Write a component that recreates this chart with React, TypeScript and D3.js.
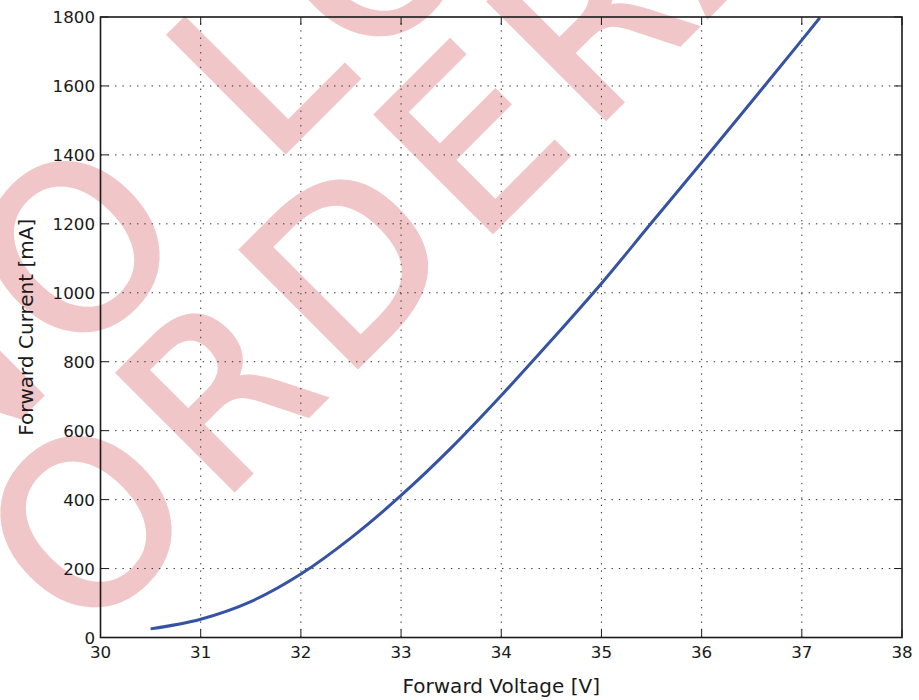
import React from "react";
import * as d3 from "d3";

const voltage = [30.5, 31.0, 31.5, 32.0, 32.5, 33.0, 33.5, 34.0, 34.5, 35.0, 35.5, 36.0, 36.5, 37.0, 37.18];
const current = [25, 53, 104, 184, 289, 412, 550, 702, 862, 1027, 1203, 1378, 1555, 1733, 1798];
const xTicks = [30, 31, 32, 33, 34, 35, 36, 37, 38];
const yTicks = [0, 200, 400, 600, 800, 1000, 1200, 1400, 1600, 1800];
const xLabel = "Forward Voltage [V]";
const yLabel = "Forward Current [mA]";
const watermark = ["NO LONGER", "ORDERABLE"];

const W = 919;
const H = 700;
const L = 100.5, R = 902, T = 17, B = 637.5;
const FONT = "'DejaVu Sans', sans-serif";

export default function App() {
  const x = d3.scaleLinear().domain([30, 38]).range([L, R]);
  const y = d3.scaleLinear().domain([0, 1800]).range([B, T]);
  const pts = voltage.map((v, i) => [v, current[i]] as [number, number]);
  const line = d3
    .line<[number, number]>()
    .x((d) => x(d[0]))
    .y((d) => y(d[1]))
    .curve(d3.curveMonotoneX);

  const wmSize = 226;
  const wmSpacing = 17;
  const rows = [
    { t: watermark[0], x: -62.2, y: 499.3 },
    { t: watermark[1], x: 81.3, y: 642.8 },
  ];
  const tickLen = 8;
  const ink = "#1a1a1a";
  const pink = "#f1c6c9";

  return (
    <svg
      width={W}
      height={H}
      style={{ position: "absolute", left: 0, top: 0, background: "#fff" }}
      fontFamily={FONT}
    >
      <defs>
        <clipPath id="plotclip">
          <rect x={L} y={T} width={R - L} height={B - T} />
        </clipPath>
      </defs>
      <rect x={0} y={0} width={W} height={H} fill="#fff" />
      {/* watermark */}
      {rows.map((r, i) => (
        <text
          key={i}
          transform={`translate(${r.x},${r.y}) rotate(-45)`}
          fontSize={wmSize}
          letterSpacing={wmSpacing}
          fill={pink}
          stroke={pink}
          strokeWidth={4.5}
          strokeLinejoin="miter"
          fontFamily={FONT}
        >
          {r.t}
        </text>
      ))}
      {/* grid */}
      <g stroke="#333" strokeWidth={1} strokeDasharray="1.4,5.9">
        {xTicks.slice(1, -1).map((t) => (
          <line key={"gx" + t} x1={x(t)} x2={x(t)} y1={B} y2={T} />
        ))}
        {yTicks.slice(1, -1).map((t) => (
          <line key={"gy" + t} x1={L} x2={R} y1={y(t)} y2={y(t)} />
        ))}
      </g>
      {/* curve */}
      <path
        d={line(pts) || ""}
        fill="none"
        stroke="#3552a3"
        strokeWidth={3}
        clipPath="url(#plotclip)"
      />
      {/* ticks */}
      <g stroke={ink} strokeWidth={1}>
        {xTicks.map((t) => (
          <g key={"tx" + t}>
            <line x1={x(t)} x2={x(t)} y1={B} y2={B - tickLen} />
            <line x1={x(t)} x2={x(t)} y1={T} y2={T + tickLen} />
          </g>
        ))}
        {yTicks.map((t) => (
          <g key={"ty" + t}>
            <line x1={L} x2={L + tickLen} y1={y(t)} y2={y(t)} />
            <line x1={R} x2={R - tickLen} y1={y(t)} y2={y(t)} />
          </g>
        ))}
      </g>
      {/* frame */}
      <rect x={L} y={T} width={R - L} height={B - T} fill="none" stroke={ink} strokeWidth={1.6} />
      {/* tick labels */}
      <g fontSize={16.7} fill={ink}>
        {xTicks.map((t) => (
          <text key={"lx" + t} x={x(t)} y={658} textAnchor="middle">
            {t}
          </text>
        ))}
        {yTicks.map((t) => (
          <text key={"ly" + t} x={L - 5.5} y={y(t)} dy="0.36em" textAnchor="end">
            {t}
          </text>
        ))}
      </g>
      <text x={(L + R) / 2} y={693} fontSize={20} textAnchor="middle" fill={ink}>
        {xLabel}
      </text>
      <text
        transform={`translate(33,${(T + B) / 2}) rotate(-90)`}
        fontSize={20}
        textAnchor="middle"
        fill={ink}
      >
        {yLabel}
      </text>
    </svg>
  );
}
